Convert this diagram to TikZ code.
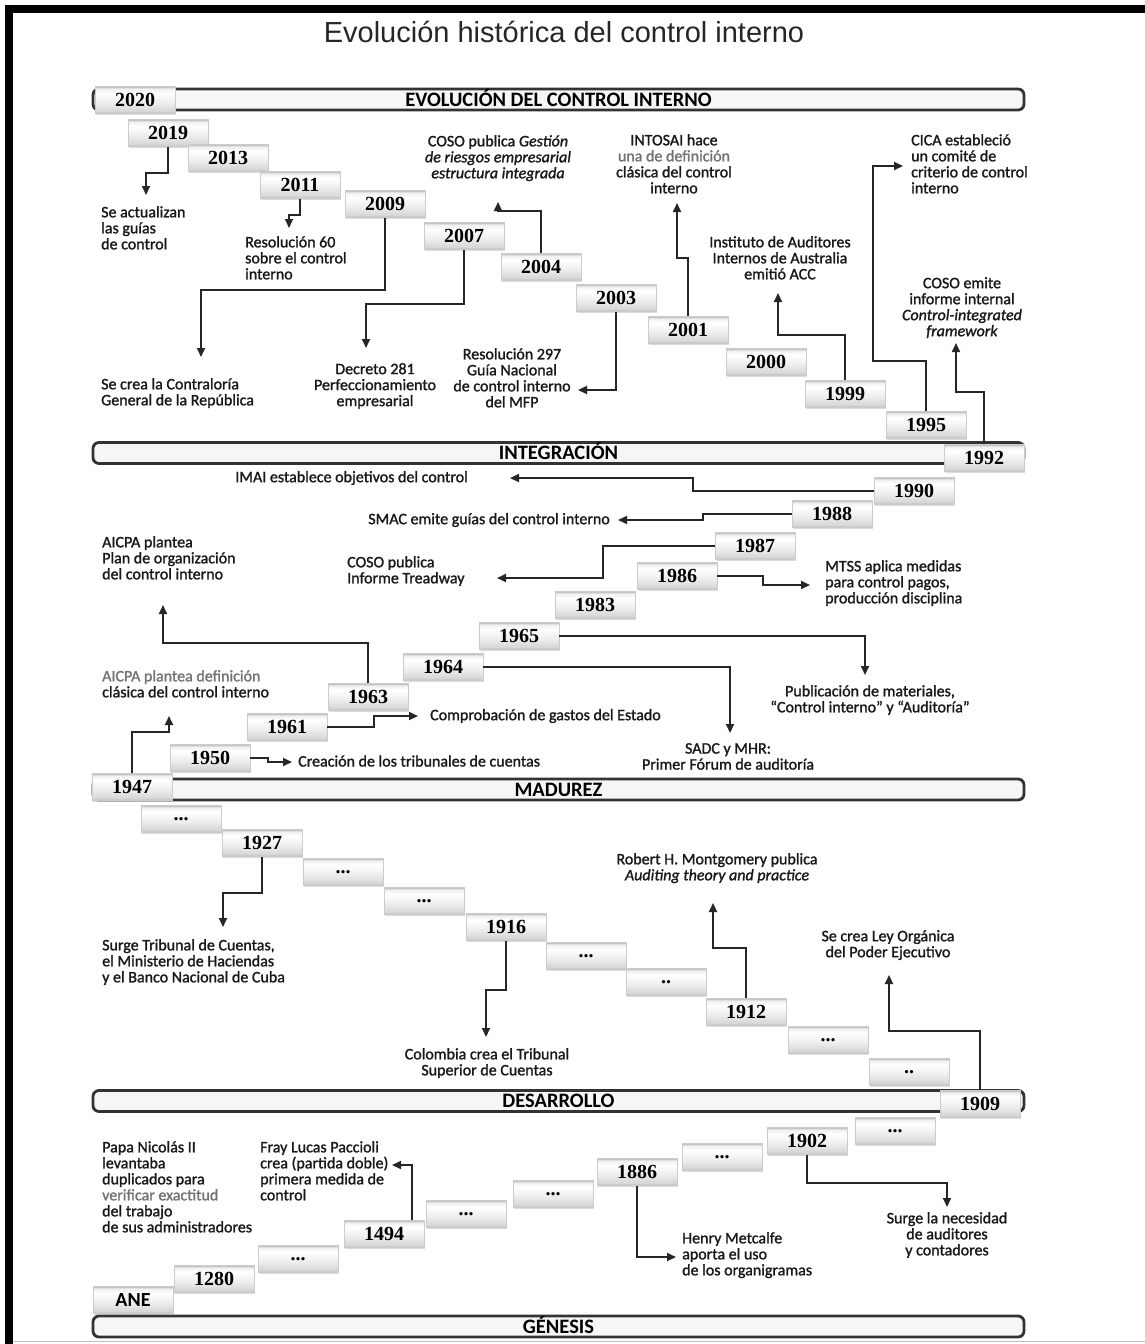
\documentclass[tikz,border=0pt]{standalone}
\usepackage{fontspec}
\setmainfont{Carlito}
\newfontfamily\lblfont{Carlito}[FakeBold=1.4]
\newfontfamily\yearfont{Liberation Serif}
\newfontfamily\titlefont{Liberation Sans}
\usetikzlibrary{arrows.meta,shadows}
\pgfdeclareverticalshading{yearshade}{100bp}{color(0bp)=(gray!60); color(25bp)=(gray!60);
  color(29bp)=(gray!32); color(45bp)=(gray!14); color(63bp)=(white); color(71bp)=(gray!12);
  color(75bp)=(gray!55); color(100bp)=(gray!55)}
\newcommand\ydots{...}
\newcommand\ytwodots{..}
\newcommand\anelabel{{\normalfont\bfseries ANE}}

\begin{document}
\begin{tikzpicture}[x=1pt,y=-1pt]
\tikzset{yearbox/.style={rectangle, minimum width=80pt, minimum height=27pt, inner sep=0pt,
    draw=gray!40, line width=.5pt, shading=yearshade,
    drop shadow={shadow xshift=1.2pt, shadow yshift=-1.5pt, fill=gray!70, opacity=.4},
    font=\yearfont\fontsize{20}{20}\selectfont\bfseries},
  phasebar/.style={draw=black!80, line width=2.8pt, rounded corners=6pt, fill=gray!7,
    minimum width=931pt, minimum height=21pt, inner sep=0pt, text height=13pt, text depth=0pt,
    font=\fontsize{20.5}{20.5}\selectfont\bfseries},
  lbl/.style={font=\lblfont\fontsize{16}{16}\selectfont, text=black!90, inner sep=0pt, align=left},
  lblc/.style={lbl, align=center},
  arr/.style={draw=black!85, line width=1.8pt, -{Triangle[length=9pt,width=8pt]}}}

\useasboundingbox (0,0) rectangle (1145,1344);
\fill[white] (0,0) rectangle (1145,1344);
\fill[black] (5,5) rectangle (1145,13);
\fill[black] (5,5) rectangle (13,1344);
\draw[gray!50, line width=.8pt] (13,1341) -- (1145,1341);

\node[font=\titlefont\fontsize{29}{29}\selectfont, text=black!85] (title) at (564,32) {Evolución histórica del control interno};

\node[phasebar] (bevol) at (558.5,99.5) {EVOLUCIÓN DEL CONTROL INTERNO};
\node[phasebar] (binteg) at (558.5,453) {INTEGRACIÓN};
\node[phasebar] (bmadur) at (558.5,789.5) {MADUREZ};
\node[phasebar] (bdesa) at (558.5,1101) {DESARROLLO};
\node[phasebar] (bgene) at (558.5,1326.5) {GÉNESIS};

\foreach \n/\t/\x/\y in {2020/2020/135/100, 2019/2019/168/133, 2013/2013/228/158, 2011/2011/300/185,
    2009/2009/385/204, 2007/2007/464/236, 2004/2004/541/267, 2003/2003/616/298, 2001/2001/688/330,
    2000/2000/766/362, 1999/1999/845/394, 1995/1995/926/425, 1992/1992/984/458,
    1947/1947/132/787, 1950/1950/210/758, 1961/1961/287/727, 1963/1963/368/697, 1964/1964/443/667,
    1965/1965/519/636, 1983/1983/595/605, 1986/1986/677/576, 1987/1987/755/546, 1988/1988/832/514,
    1990/1990/914/491,
    d1/\ydots/181/819, 1927/1927/262/843, d2/\ydots/343/872, d3/\ydots/424/901, 1916/1916/506/927,
    d4/\ydots/586/956, d5/\ytwodots/666/982, 1912/1912/746/1012, d6/\ydots/828/1040,
    d7/\ytwodots/909/1072, 1909/1909/980/1104,
    ane/\anelabel/133/1300, 1280/1280/214/1279, d8/\ydots/298/1259, 1494/1494/384/1234,
    d9/\ydots/466/1214, d10/\ydots/553/1194, 1886/1886/637/1172, d11/\ydots/722/1157,
    1902/1902/807/1141, d12/\ydots/895/1131}
  \node[yearbox] (y\n) at (\x,\y) {\t};

\node[lbl, anchor=north west] (t2019) at (101,206) {Se actualizan\\las guías\\de control};
\node[lbl, anchor=north west] (t2011) at (245,236) {Resolución 60\\sobre el control\\interno};
\node[lbl, anchor=north west] (t2009) at (101,378) {Se crea la Contraloría\\General de la República};
\node[lblc, anchor=north] (t2007) at (375,363) {Decreto 281\\Perfeccionamiento\\empresarial};
\node[lblc, anchor=north] (t2004) at (498,135) {COSO publica \textit{Gestión}\\\textit{de riesgos empresarial}\\\textit{estructura integrada}};
\node[lblc, anchor=north] (t2003) at (512,348) {Resolución 297\\Guía Nacional\\de control interno\\del MFP};
\node[lblc, anchor=north] (t2001) at (674,134) {INTOSAI hace\\{\color{black!55}una de definición}\\clásica del control\\interno};
\node[lblc, anchor=north] (t1999) at (780,236) {Instituto de Auditores\\Internos de Australia\\emitió ACC};
\node[lbl, anchor=north west] (t1995) at (911,134) {CICA estableció\\un comité de\\criterio de control\\interno};
\node[lblc, anchor=north] (t1992) at (962,277) {COSO emite\\informe internal\\\textit{Control-integrated}\\\textit{framework}};

\node[lbl, anchor=east] (t1990) at (468,478) {IMAI establece objetivos del control};
\node[lbl, anchor=east] (t1988) at (610,520) {SMAC emite guías del control interno};
\node[lbl, anchor=north west] (t1987) at (347,556) {COSO publica\\Informe Treadway};
\node[lbl, anchor=north west] (t1986) at (825,560) {MTSS aplica medidas\\para control pagos,\\producción disciplina};
\node[lblc, anchor=north] (t1965) at (870,685) {Publicación de materiales,\\“Control interno” y “Auditoría”};
\node[lblc, anchor=north] (t1964) at (728,743) {SADC y MHR:\\Primer Fórum de auditoría};
\node[lbl, anchor=north west] (t1963) at (102,536) {AICPA plantea\\Plan de organización\\del control interno};
\node[lbl, anchor=west] (t1961) at (430,716) {Comprobación de gastos del Estado};
\node[lbl, anchor=west] (t1950) at (298,761) {Creación de los tribunales de cuentas};
\node[lbl, anchor=north west] (t1947) at (102,670) {{\color{black!55}AICPA plantea definición}\\clásica del control interno};

\node[lbl, anchor=north west] (t1927) at (102,939) {Surge Tribunal de Cuentas,\\el Ministerio de Haciendas\\y el Banco Nacional de Cuba};
\node[lblc, anchor=north] (t1916) at (487,1048) {Colombia crea el Tribunal\\Superior de Cuentas};
\node[lblc, anchor=north] (t1912) at (717,853) {Robert H. Montgomery publica\\\textit{Auditing theory and practice}};
\node[lblc, anchor=north] (t1909) at (888,930) {Se crea Ley Orgánica\\del Poder Ejecutivo};

\node[lbl, anchor=north west] (tpapa) at (102,1141) {Papa Nicolás II\\levantaba\\duplicados para\\{\color{black!55}verificar exactitud}\\del trabajo\\de sus administradores};
\node[lbl, anchor=north west] (t1494) at (260,1141) {Fray Lucas Paccioli\\crea (partida doble)\\primera medida de\\control};
\node[lbl, anchor=north west] (t1886) at (682,1232) {Henry Metcalfe\\aporta el uso\\de los organigramas};
\node[lblc, anchor=north] (t1902) at (947,1212) {Surge la necesidad\\de auditores\\y contadores};

\draw[arr] (y2019.south) -- ++(0,26) -| ([shift={(45,-11)}]t2019.north west);
\draw[arr] (y2011.south) -- ++(0,16) -| ([shift={(44,-8)}]t2011.north west);
\draw[arr] (y2009.south) -- ++(0,72) -| ([shift={(100,-21)}]t2009.north west);
\draw[arr] (y2007.south) -- ++(0,54) -| ([shift={(-9,-15)}]t2007.north);
\draw[arr] (y2004.north) -- ++(0,-42) -| ([shift={(0,67)}]t2004.north);
\draw[arr] (y2003.south) |- ([shift={(66,42)}]t2003.north);
\draw[arr] (y2001.north) -- ++(0,-58) -| ([shift={(3,69)}]t2001.north);
\draw[arr] (y1999.north) -- ++(0,-45) -| ([shift={(-2,57)}]t1999.north);
\draw[arr] (y1995.north) -- ++(0,-50) -- ++(-53,0) |- ([shift={(-8,32)}]t1995.north west);
\draw[arr] (y1992.north) -- ++(0,-52) -| ([shift={(-6,66)}]t1992.north);

\draw[arr] (y1990.west) -- ++(-181,0) |- ([shift={(42,0)}]t1990.east);
\draw[arr] (y1988.west) -- ++(-89,0) |- ([shift={(8,0)}]t1988.east);
\draw[arr] (y1987.west) -- ++(-112,0) |- ([shift={(150,22)}]t1987.north west);
\draw[arr] (y1986.east) -- ++(46,0) |- ([shift={(-15,25)}]t1986.north west);
\draw[arr] (y1965.east) -| ([shift={(-5,-10)}]t1965.north);
\draw[arr] (y1964.east) -| ([shift={(2,-10)}]t1964.north);
\draw[arr] (y1963.north) -- ++(0,-40) -| ([shift={(61,69)}]t1963.north west);
\draw[arr] (y1961.east) -- ++(47,0) |- ([shift={(-12,0)}]t1961.west);
\draw[arr] (y1950.east) -- ++(18,0) |- ([shift={(-6,1)}]t1950.west);
\draw[arr] (y1947.north) -- ++(0,-41) -| ([shift={(67,46)}]t1947.north west);

\draw[arr] (y1927.south) -- ++(0,36) -| ([shift={(121,-12)}]t1927.north west);
\draw[arr] (y1916.south) -- ++(0,49) -| ([shift={(-1,-11)}]t1916.north);
\draw[arr] (y1912.north) -- ++(0,-50) -| ([shift={(-4,50)}]t1912.north);
\draw[arr] (y1909.north) -- ++(0,-59) -| ([shift={(1,45)}]t1909.north);

\draw[arr] ([xshift=28pt]y1494.north) |- ([shift={(132,24)}]t1494.north west);
\draw[arr] (y1886.south) |- ([shift={(-6,25)}]t1886.north west);
\draw[arr] (y1902.south) -- ++(0,28) -| ([shift={(0,-5)}]t1902.north);
\end{tikzpicture}
\end{document}
